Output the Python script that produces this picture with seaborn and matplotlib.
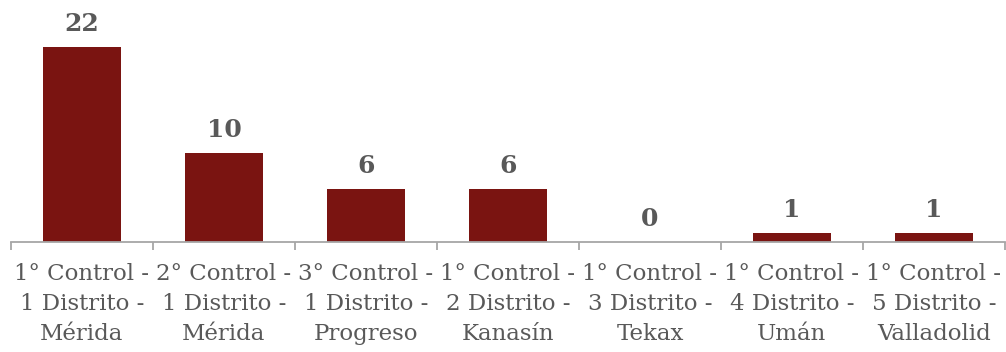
import matplotlib
matplotlib.use("Agg")
import matplotlib.pyplot as plt
import seaborn as sns
import pandas as pd
from matplotlib.ticker import FixedLocator

categories = [
    "1° Control -\n1 Distrito -\nMérida",
    "2° Control -\n1 Distrito -\nMérida",
    "3° Control -\n1 Distrito -\nProgreso",
    "1° Control -\n2 Distrito -\nKanasín",
    "1° Control -\n3 Distrito -\nTekax",
    "1° Control -\n4 Distrito -\nUmán",
    "1° Control -\n5 Distrito -\nValladolid",
]
values = [22, 10, 6, 6, 0, 1, 1]

df = pd.DataFrame({"cat": categories, "val": values})

sns.set_theme(style="white")
plt.rcParams["font.family"] = ["DejaVu Serif"]

fig = plt.figure(figsize=(10.06, 3.52), dpi=100)
ax = fig.add_axes([11 / 1006, 110 / 352, 994 / 1006, 242 / 352])

sns.barplot(data=df, x="cat", y="val", color="#7A1411", saturation=1,
            width=0.555, linewidth=0, ax=ax)

ax.set_ylim(0, 242 / 8.86)
ax.set_xlim(-0.5, len(categories) - 0.5)
for s in ["top", "right", "left"]:
    ax.spines[s].set_visible(False)
ax.spines["bottom"].set_color("#A6A6A6")
ax.spines["bottom"].set_linewidth(1.3)
ax.set_yticks([])
ax.set_xlabel("")
ax.set_ylabel("")

ax.xaxis.set_minor_locator(FixedLocator([i - 0.5 for i in range(len(categories) + 1)]))
ax.tick_params(axis="x", which="major", length=0, pad=15, labelsize=16.5,
               labelcolor="#595959")
ax.tick_params(axis="x", which="minor", length=6, width=1.3, color="#A6A6A6",
               bottom=True)
for lbl in ax.get_xticklabels():
    lbl.set_linespacing(1.48)

ax.bar_label(ax.containers[0], labels=[str(v) for v in values], padding=8,
             fontsize=18, fontweight="heavy", color="#595959")

fig.savefig("out.png", dpi=100)
